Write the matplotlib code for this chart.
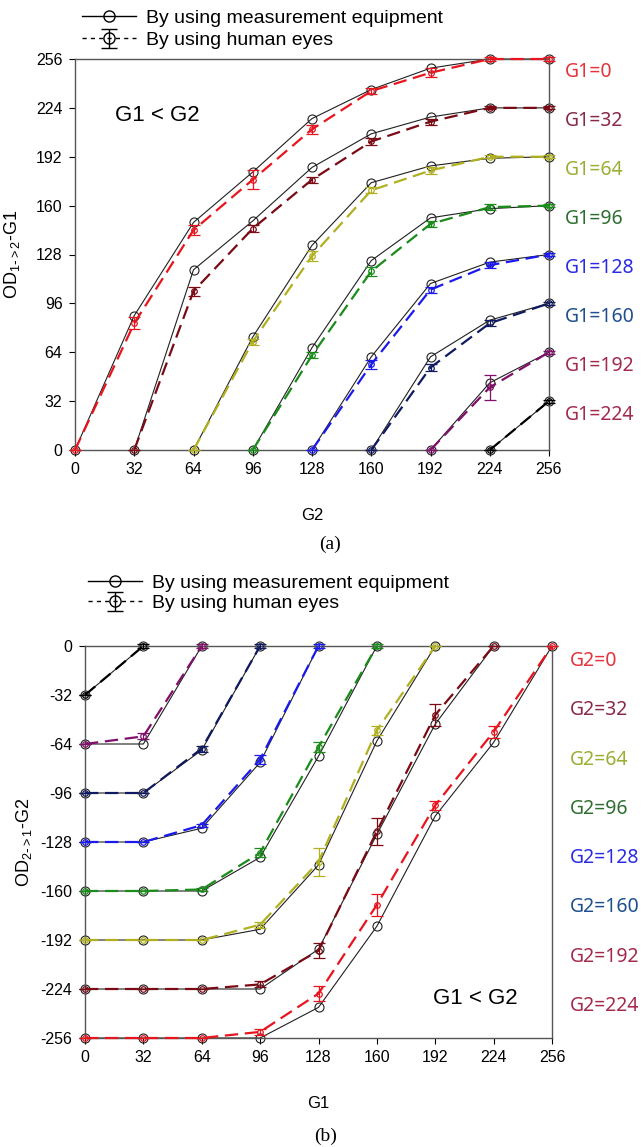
import numpy as np
import matplotlib
matplotlib.use("Agg")
import matplotlib.pyplot as plt
from matplotlib.lines import Line2D

plt.rcParams['font.family'] = ['Liberation Sans', 'DejaVu Sans']
plt.rcParams['axes.unicode_minus'] = False

# ---------------- data ----------------
x_ticks = [0, 32, 64, 96, 128, 160, 192, 224, 256]

# (a) G1 < G2 ; series start at x = G1
g1_levels = [0, 32, 64, 96, 128, 160, 192, 224]
meas_a = [
    [0, 88, 149, 182, 217, 236, 250, 256, 256],
    [0, 118, 150, 185, 207, 218, 224, 224],
    [0, 74, 134, 175, 186, 191, 192],
    [0, 67, 124, 152, 158, 160],
    [0, 61, 109, 123, 128],
    [0, 61, 85, 96],
    [0, 44, 64],
    [0, 32],
]
eyes_a = [
    [0, 83, 144, 177, 210, 235, 247, 256, 256],
    [0, 104, 145, 177, 202, 215, 224, 224],
    [0, 71, 127, 170, 183, 192, 192],
    [0, 62, 117, 148, 159, 160],
    [0, 56, 105, 121, 128],
    [0, 54, 83, 96],
    [0, 41, 64],
    [0, 32],
]
err_a = [
    [0, 4, 3, 6, 3, 2, 3, 1, 1],
    [0, 3, 2, 2, 2, 2, 1, 1],
    [0, 2, 3, 2, 2, 1, 1],
    [0, 2, 3, 2, 2, 1],
    [0, 3, 2, 2, 1],
    [0, 2, 2, 1],
    [0, 8, 1],
    [0, 1],
]

# (b) series for G2 run from x = 0 to 256 - G2
g2_levels = [0, 32, 64, 96, 128, 160, 192, 224]
meas_b = [
    [-256, -256, -256, -256, -236, -183, -111, -63, 0],
    [-224, -224, -224, -224, -198, -123, -51, 0],
    [-192, -192, -192, -185, -143, -62, 0],
    [-160, -160, -160, -138, -72, 0],
    [-128, -128, -119, -76, 0],
    [-96, -96, -68, 0],
    [-64, -64, 0],
    [-32, 0],
]
eyes_b = [
    [-256, -256, -256, -252, -227, -169, -104, -56, 0],
    [-224, -224, -224, -221, -199, -121, -45, 0],
    [-192, -192, -192, -182, -141, -55, 0],
    [-160, -160, -159, -135, -66, 0],
    [-128, -128, -117, -74, 0],
    [-96, -96, -67, 0],
    [-64, -59, 0],
    [-32, 0],
]
err_b = [
    [0, 0, 0, 2, 5, 7, 3, 4, 0],
    [0, 0, 0, 2, 5, 9, 7, 0],
    [0, 0, 0, 2, 9, 3, 0],
    [0, 0, 1, 3, 3, 1],
    [0, 0, 1, 3, 1],
    [0, 0, 2, 1],
    [0, 2, 1],
    [0, 1],
]

line_colors = ['#e8141e', '#7a0a14', '#b0b020', '#1a8c1a', '#1a1aee', '#101a60', '#80106a', '#000000']
label_colors = ['#e5323c', '#8a2a4a', '#9aae32', '#2e6e30', '#2a2ae6', '#1e4f8f', '#a32a4c', '#a32a4c']

# ---------------- figure ----------------
W, H = 642, 1147
fig = plt.figure(figsize=(W / 100, H / 100), dpi=100)
ax1 = fig.add_axes([75 / W, 1 - 450 / H, 474 / W, 391 / H])
ax2 = fig.add_axes([85 / W, 1 - 1038 / H, 467 / W, 392 / H])

dash = (0, (6, 3))

def draw(ax, xs_list, meas, eyes, errs):
    for i, (xs, m, e, er) in enumerate(zip(xs_list, meas, eyes, errs)):
        ax.plot(xs, m, '-', color='#202020', lw=0.8, marker='o', ms=6.5,
                mfc='none', mec='#202020', mew=0.8, zorder=2)
        ax.errorbar(xs, e, yerr=er, fmt='none', ecolor=line_colors[i],
                    elinewidth=0.9, capsize=4, capthick=0.9, zorder=3)
        ax.plot(xs, e, color=line_colors[i], lw=1.6, linestyle=dash,
                marker='o', ms=4, mfc='none', mec=line_colors[i], mew=0.9, zorder=3)

xs_a = [x_ticks[k:] for k in range(len(g1_levels))]
draw(ax1, xs_a, meas_a, eyes_a, err_a)
xs_b = [x_ticks[:len(x_ticks) - k] for k in range(len(g2_levels))]
draw(ax2, xs_b, meas_b, eyes_b, err_b)

for ax in (ax1, ax2):
    ax.set_xlim(0, 256)
    ax.set_xticks(x_ticks)
    ax.tick_params(labelsize=11.5, length=4, width=0.8, direction='out', pad=5)
    for s in ax.spines.values():
        s.set_color('#555555')
        s.set_linewidth(1.0)
    for c in ax.get_children():
        if hasattr(c, 'set_clip_on'):
            c.set_clip_on(False)

ax1.set_ylim(0, 256)
ax1.set_yticks(x_ticks)
ax2.set_ylim(-256, 0)
ax2.set_yticks([-256, -224, -192, -160, -128, -96, -64, -32, 0])

ax1.set_xlabel('G2', fontsize=12, labelpad=22)
ax1.set_ylabel(r'OD$_{\mathregular{1\text{-}>2}}$-G1', fontsize=13, labelpad=10)
ax2.set_xlabel('G1', fontsize=12, labelpad=22)
ax2.set_ylabel(r'OD$_{\mathregular{2\text{-}>1}}$-G2', fontsize=13, labelpad=5)

ax1.text(0.085, 0.855, 'G1 < G2', transform=ax1.transAxes, fontsize=16, va='center', ha='left')
ax2.text(0.745, 0.10, 'G1 < G2', transform=ax2.transAxes, fontsize=16, va='center', ha='left')

for i, g in enumerate(g1_levels):
    fig.text(565 / W, 1 - (72 + 49 * i) / H, f'G1={g}', color=label_colors[i],
             fontsize=14, va='center', ha='left', family=['Noto Sans', 'DejaVu Sans'])
for i, g in enumerate(g2_levels):
    fig.text(570 / W, 1 - (661 + 49.3 * i) / H, f'G2={g}', color=label_colors[i],
             fontsize=14, va='center', ha='left', family=['Noto Sans', 'DejaVu Sans'])

fig.text(330 / W, 1 - 544 / H, '(a)', fontsize=14, ha='center', va='center',
         family=['Liberation Serif', 'DejaVu Serif'])
fig.text(326 / W, 1 - 1136 / H, '(b)', fontsize=14, ha='center', va='center',
         family=['Liberation Serif', 'DejaVu Serif'])

# legends
def make_handles(ax):
    h1 = Line2D([], [], color='k', lw=1.0, marker='o', ms=8, mfc='none', mec='k')
    h2 = ax.errorbar([np.nan], [np.nan], yerr=[1], fmt='o', color='k', ms=8, mfc='none',
                     ls=(0, (3, 3)), lw=1.0, capsize=6)
    return [h1, h2]

labels = ['By using measurement equipment', 'By using human eyes']
fig.legend(make_handles(ax1), labels, loc='center left', bbox_to_anchor=(82 / W, 1 - 29 / H),
           frameon=False, fontsize=14, handlelength=2.8, handletextpad=0.5, labelspacing=0.25,
           borderpad=0, borderaxespad=0)
fig.legend(make_handles(ax2), labels, loc='center left', bbox_to_anchor=(88 / W, 1 - 593 / H),
           frameon=False, fontsize=14, handlelength=2.8, handletextpad=0.5, labelspacing=0.15,
           borderpad=0, borderaxespad=0)

fig.savefig('out.png', dpi=100)
